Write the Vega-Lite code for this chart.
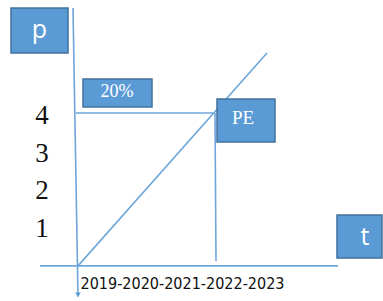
{
  "$schema": "https://vega.github.io/schema/vega-lite/v6.json",
  "width": 383,
  "height": 301,
  "autosize": {"type": "fit", "contains": "padding"},
  "padding": 0,
  "background": "white",
  "config": {"view": {"stroke": null}},
  "datasets": {
    "lines": [
      {"seg": "p-axis", "order": 1, "t": -0.116, "p": 6.852},
      {"seg": "p-axis", "order": 2, "t": 0.029, "p": -0.78},
      {"seg": "t-axis", "order": 1, "t": -1.072, "p": 0.03},
      {"seg": "t-axis", "order": 2, "t": 7.565, "p": 0.03},
      {"seg": "diagonal", "order": 1, "t": 0.029, "p": 0.03},
      {"seg": "diagonal", "order": 2, "t": 5.507, "p": 5.661},
      {"seg": "price-4", "order": 1, "t": -0.029, "p": 4.074},
      {"seg": "price-4", "order": 2, "t": 3.971, "p": 4.074},
      {"seg": "drop", "order": 1, "t": 4.0, "p": 4.074},
      {"seg": "drop", "order": 2, "t": 4.029, "p": 0.159}
    ],
    "boxes": [
      {"label": "p", "t": -1.913, "t2": -0.261, "p": 6.852, "p2": 5.661},
      {"label": "20%", "t": 0.174, "t2": 2.174, "p": 4.974, "p2": 4.233},
      {"label": "PE", "t": 4.058, "t2": 5.739, "p": 4.444, "p2": 3.307},
      {"label": "t", "t": 7.536, "t2": 8.84, "p": 1.376, "p2": 0.238}
    ],
    "boxtext": [
      {"label": "p", "kind": "sans", "t": -1.087, "p": 6.259},
      {"label": "t", "kind": "sans", "t": 8.348, "p": 0.794},
      {"label": "20%", "kind": "serif", "t": 1.159, "p": 4.63},
      {"label": "PE", "kind": "serif", "t": 4.812, "p": 3.929}
    ],
    "ticks": [
      {"label": "1", "t": -1.014, "p": 1},
      {"label": "2", "t": -1.014, "p": 2},
      {"label": "3", "t": -1.014, "p": 3},
      {"label": "4", "t": -1.014, "p": 4}
    ],
    "years": [
      {"label": "2019-2020-2021-2022-2023", "t": 3.058, "p": -0.45}
    ],
    "arrow": [
      {"t": 0.029, "p": -0.74}
    ]
  },
  "encoding": {
    "x": {"field": "t", "type": "quantitative", "axis": null,
          "scale": {"domain": [-2.2319, 8.8696], "nice": false, "zero": false}},
    "y": {"field": "p", "type": "quantitative", "axis": null,
          "scale": {"domain": [-0.899, 7.063], "nice": false, "zero": false}}
  },
  "layer": [
    {
      "data": {"name": "lines"},
      "mark": {"type": "line", "color": "#6ea6da", "strokeWidth": 1.6},
      "encoding": {
        "detail": {"field": "seg", "type": "nominal"},
        "order": {"field": "order", "type": "quantitative"}
      }
    },
    {
      "data": {"name": "arrow"},
      "mark": {"type": "point", "shape": "triangle-down", "filled": true, "color": "#5b9bd5", "size": 30, "opacity": 1}
    },
    {
      "data": {"name": "boxes"},
      "mark": {"type": "rect", "fill": "#5b9bd5", "stroke": "#41719c", "strokeWidth": 1.5},
      "encoding": {
        "x2": {"field": "t2"},
        "y2": {"field": "p2"}
      }
    },
    {
      "data": {"name": "boxtext"},
      "transform": [{"filter": "datum.kind === 'sans'"}],
      "mark": {"type": "text", "font": "Open Sans", "fontSize": 25, "color": "white", "align": "center", "baseline": "middle"},
      "encoding": {"text": {"field": "label"}}
    },
    {
      "data": {"name": "boxtext"},
      "transform": [{"filter": "datum.kind === 'serif' && datum.label === '20%'"}],
      "mark": {"type": "text", "font": "Liberation Serif", "fontSize": 18, "color": "white", "align": "center", "baseline": "middle"},
      "encoding": {"text": {"field": "label"}}
    },
    {
      "data": {"name": "boxtext"},
      "transform": [{"filter": "datum.kind === 'serif' && datum.label === 'PE'"}],
      "mark": {"type": "text", "font": "Liberation Serif", "fontSize": 19, "color": "white", "align": "center", "baseline": "middle"},
      "encoding": {"text": {"field": "label"}}
    },
    {
      "data": {"name": "ticks"},
      "mark": {"type": "text", "font": "Liberation Serif", "fontSize": 27, "color": "#111111", "align": "center", "baseline": "middle"},
      "encoding": {"text": {"field": "label"}}
    },
    {
      "data": {"name": "years"},
      "mark": {"type": "text", "font": "DejaVu Sans Condensed", "fontSize": 16, "color": "#111111", "align": "center", "baseline": "middle"},
      "encoding": {"text": {"field": "label"}}
    }
  ]
}
